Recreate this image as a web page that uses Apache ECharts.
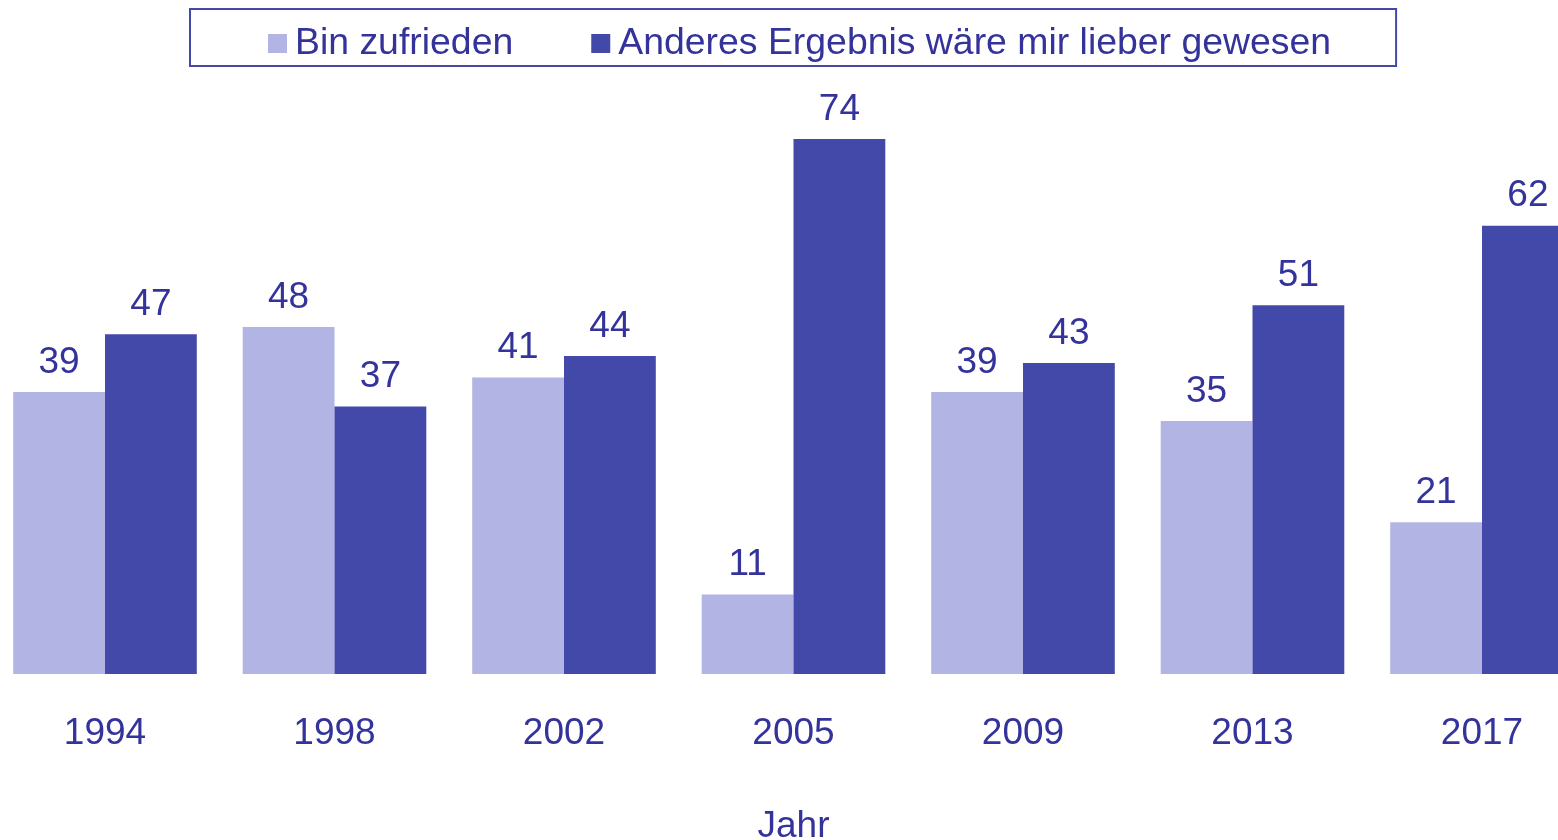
<!DOCTYPE html>
<html>
<head>
<meta charset="utf-8">
<script src="https://cdn.jsdelivr.net/npm/echarts@6/dist/echarts.min.js"></script>
<style>
  html, body { margin: 0; padding: 0; background: #fff; }
  #chart { width: 1558px; height: 840px; }
</style>
</head>
<body>
<div id="chart"></div>
<script>
// values
const years = ['1994', '1998', '2002', '2005', '2009', '2013', '2017'];
const zufrieden = [39, 48, 41, 11, 39, 35, 21];
const anderes = [47, 37, 44, 74, 43, 51, 62];
const seriesNames = ['Bin zufrieden', 'Anderes Ergebnis wäre mir lieber gewesen'];

const textColor = '#33339b';
const font = '"Liberation Sans", Arial, sans-serif';

const chart = echarts.init(document.getElementById('chart'));

const valueLabel = {
    show: true,
    position: 'top',
    distance: 11,
    color: textColor,
    fontSize: 37,
    fontFamily: font
};

chart.setOption({
    animation: false,
    textStyle: { fontFamily: font },
    legend: {
        top: 9,
        left: 190,
        padding: [16, 65, 4, 78],
        borderColor: '#4448a8',
        borderWidth: 2,
        itemWidth: 19,
        itemHeight: 19,
        itemGap: 78,
        itemStyle: { borderWidth: 0 },
        icon: 'rect',
        textStyle: { color: textColor, fontSize: 37.4, fontFamily: font, padding: [0, 0, 0, 3] },
        data: seriesNames
    },
    grid: {
        left: -9.75, right: -38.75, top: 139, bottom: 166,
        containLabel: false,
        outerBoundsMode: 'none'
    },
    xAxis: {
        type: 'category',
        data: years,
        axisLine: { show: false },
        axisTick: { show: false },
        axisLabel: { color: textColor, fontSize: 37, margin: 41, fontFamily: font },
        name: 'Jahr',
        nameLocation: 'middle',
        nameGap: 134,
        nameTextStyle: { color: textColor, fontSize: 37, fontFamily: font }
    },
    yAxis: {
        type: 'value',
        min: 0,
        max: 74,
        show: false
    },
    series: [
        {
            name: seriesNames[0],
            type: 'bar',
            data: zufrieden,
            barGap: '0%',
            barCategoryGap: '20%',
            itemStyle: { color: '#b2b4e4' },
            label: valueLabel
        },
        {
            name: seriesNames[1],
            type: 'bar',
            data: anderes,
            barGap: '0%',
            barCategoryGap: '20%',
            itemStyle: { color: '#4349a8' },
            label: valueLabel
        }
    ]
});
</script>
</body>
</html>
